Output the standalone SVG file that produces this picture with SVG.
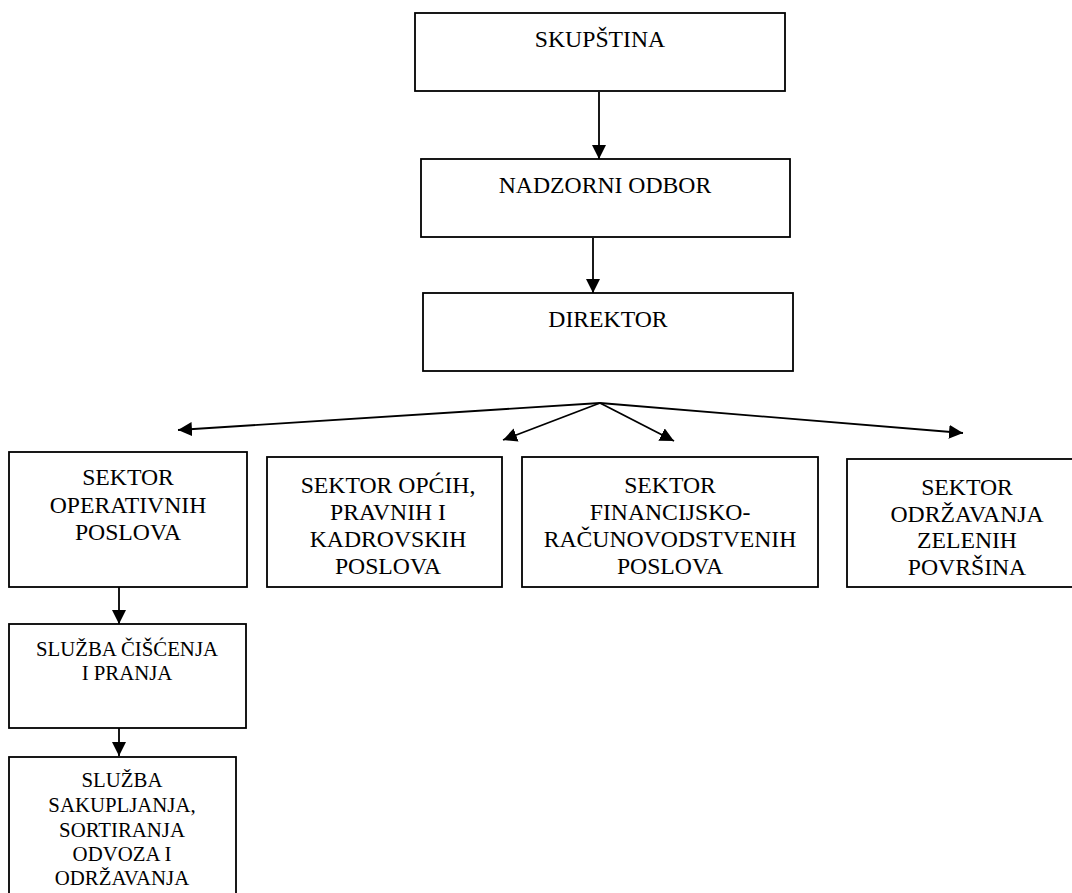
<svg xmlns="http://www.w3.org/2000/svg" width="1072" height="893" viewBox="0 0 1072 893">
<style>
.box{fill:#fff;stroke:#000;stroke-width:1.8}
.t{font-family:"Liberation Serif","Times New Roman",serif;font-size:23.7px;fill:#000;text-anchor:middle}
.s{font-family:"Liberation Serif","Times New Roman",serif;font-size:20.8px;fill:#000;text-anchor:middle}
.c{stroke:#000;stroke-width:1.8;fill:none;marker-end:url(#ah)}
</style>
<defs>
<marker id="ah" markerUnits="userSpaceOnUse" markerWidth="15" markerHeight="14" refX="14" refY="7" orient="auto">
<path d="M0,0 L14,7 L0,14 z" fill="#000"/>
</marker>
</defs>
<rect width="1072" height="893" fill="#fff"/>
<g id="connectors">
<line class="c" x1="599" y1="92" x2="599" y2="159"/>
<line class="c" x1="593" y1="238" x2="593" y2="293"/>
<line class="c" x1="600" y1="403" x2="178" y2="430"/>
<line class="c" x1="600" y1="403" x2="503" y2="440"/>
<line class="c" x1="600" y1="403" x2="674" y2="441"/>
<line class="c" x1="600" y1="403" x2="963" y2="433"/>
<line class="c" x1="119" y1="587" x2="119" y2="624"/>
<line class="c" x1="119" y1="728" x2="119" y2="756"/>
</g>
<g id="skupstina">
<rect class="box" x="415" y="13" width="370" height="78"/>
<text class="t" x="600" y="47">SKUPŠTINA</text>
</g>
<g id="nadzorni-odbor">
<rect class="box" x="421" y="159" width="369" height="78"/>
<text class="t" x="605" y="193">NADZORNI ODBOR</text>
</g>
<g id="direktor">
<rect class="box" x="423" y="293" width="370" height="78"/>
<text class="t" x="608" y="327">DIREKTOR</text>
</g>
<g id="sektor-operativnih">
<rect class="box" x="9" y="452" width="238" height="135"/>
<text class="t" x="128" y="485">SEKTOR</text>
<text class="t" x="128" y="513">OPERATIVNIH</text>
<text class="t" x="128" y="540">POSLOVA</text>
</g>
<g id="sektor-opcih">
<rect class="box" x="267" y="457" width="235" height="130"/>
<text class="t" x="388" y="493">SEKTOR OPĆIH,</text>
<text class="t" x="388" y="520">PRAVNIH I</text>
<text class="t" x="388" y="547">KADROVSKIH</text>
<text class="t" x="388" y="574">POSLOVA</text>
</g>
<g id="sektor-financijsko">
<rect class="box" x="522" y="457" width="296" height="130"/>
<text class="t" x="670" y="493">SEKTOR</text>
<text class="t" x="670" y="520">FINANCIJSKO-</text>
<text class="t" x="670" y="547">RAČUNOVODSTVENIH</text>
<text class="t" x="670" y="574">POSLOVA</text>
</g>
<g id="sektor-odrzavanja">
<rect class="box" x="847" y="459" width="240" height="128"/>
<text class="t" x="967" y="495">SEKTOR</text>
<text class="t" x="967" y="522">ODRŽAVANJA</text>
<text class="t" x="967" y="548">ZELENIH</text>
<text class="t" x="967" y="575">POVRŠINA</text>
</g>
<g id="sluzba-ciscenja">
<rect class="box" x="9" y="624" width="237" height="104"/>
<text class="s" x="127" y="656">SLUŽBA ČIŠĆENJA</text>
<text class="s" x="127" y="680">I PRANJA</text>
</g>
<g id="sluzba-sakupljanja">
<rect class="box" x="9" y="757" width="227" height="150"/>
<text class="s" x="122" y="787">SLUŽBA</text>
<text class="s" x="122" y="812">SAKUPLJANJA,</text>
<text class="s" x="122" y="837">SORTIRANJA</text>
<text class="s" x="122" y="861">ODVOZA I</text>
<text class="s" x="122" y="885">ODRŽAVANJA</text>
</g>
</svg>
